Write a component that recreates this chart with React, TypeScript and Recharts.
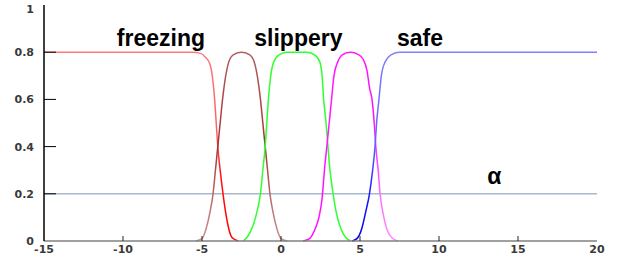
import { LineChart, Line, XAxis, YAxis, ReferenceLine, ReferenceDot } from 'recharts'

// membership curves
const freezingX = [-15, -5.6, -5.1, -4.8, -4.5, -4.35, -4.2, -4.1, -4.0, -3.85, -3.67, -3.5, -3.3, -3.1, -2.7]
const freezingY = [0.8, 0.8, 0.795, 0.78, 0.75, 0.7, 0.6, 0.5, 0.4, 0.3, 0.2, 0.12, 0.05, 0.015, 0]

const coldX = [-5.4, -5.0, -4.75, -4.5, -4.3, -4.15, -4.0, -3.85, -3.7, -3.5, -3.3, -3.0, -2.5, -2.0, -1.7, -1.5, -1.3, -1.15, -1.0, -0.85, -0.7, -0.5, -0.25, 0, 0.4]
const coldY = [0, 0.01, 0.05, 0.12, 0.2, 0.3, 0.4, 0.5, 0.6, 0.7, 0.76, 0.79, 0.8, 0.79, 0.76, 0.7, 0.6, 0.5, 0.4, 0.3, 0.2, 0.12, 0.05, 0.01, 0]

const slipperyX = [-2.4, -2.1, -1.8, -1.5, -1.3, -1.15, -1.0, -0.9, -0.8, -0.65, -0.45, -0.1, 0.4, 1.6, 2.1, 2.45, 2.6, 2.7, 2.85, 2.97, 3.1, 3.3, 3.5, 3.8, 4.1, 4.4]
const slipperyY = [0, 0.02, 0.06, 0.13, 0.2, 0.3, 0.4, 0.5, 0.6, 0.7, 0.76, 0.79, 0.8, 0.8, 0.79, 0.76, 0.7, 0.6, 0.5, 0.4, 0.3, 0.2, 0.12, 0.05, 0.015, 0]

const wetX = [1.4, 1.8, 2.15, 2.4, 2.6, 2.75, 2.9, 3.05, 3.2, 3.35, 3.6, 3.9, 4.4, 4.9, 5.2, 5.45, 5.6, 5.76, 5.9, 6.0, 6.15, 6.27, 6.45, 6.7, 7.0, 7.4]
const wetY = [0, 0.01, 0.05, 0.1, 0.18, 0.3, 0.4, 0.5, 0.6, 0.7, 0.76, 0.79, 0.8, 0.79, 0.77, 0.72, 0.65, 0.6, 0.5, 0.4, 0.3, 0.2, 0.12, 0.05, 0.015, 0]

const safeX = [4.5, 4.8, 5.1, 5.35, 5.6, 5.8, 5.95, 6.05, 6.2, 6.35, 6.6, 7.0, 7.5, 20]
const safeY = [0, 0.01, 0.05, 0.12, 0.2, 0.3, 0.4, 0.5, 0.6, 0.7, 0.76, 0.79, 0.8, 0.8]

const xTicks = [-15, -10, -5, 0, 5, 10, 15, 20]
const yTicks = [0, 0.2, 0.4, 0.6, 0.8, 1]
const alpha = 0.2

const toData = (xs: number[], ys: number[]) => xs.map((x, i) => ({ x, y: ys[i] }))

const labelFont = { fontFamily: 'Liberation Sans, Arial, sans-serif', fontWeight: 'bold', fontSize: 23, fill: '#000' }
const tickFont = { fontFamily: 'DejaVu Sans, sans-serif', fontWeight: 'bold', fontSize: 11, fill: '#3a3a3a' }

const XTick = (props: any) => {
  const { x, y, payload } = props
  const edge = payload.value === -15 || payload.value === 20
  return (
    <g>
      {!edge && <line x1={x} x2={x} y1={y} y2={y - 5} stroke="#222" />}
      <text x={x} y={y + 12} textAnchor="middle" {...tickFont}>{payload.value}</text>
    </g>
  )
}

const YTick = (props: any) => {
  const { x, y, payload } = props
  const edge = payload.value === 0 || payload.value === 1
  return (
    <g>
      {!edge && <line x1={x} x2={x + 12} y1={y} y2={y} stroke="#000" />}
      <text x={x - 10} y={y + 4} textAnchor="end" {...tickFont}>{payload.value}</text>
    </g>
  )
}

const RightTick = (props: any) => {
  const { x, y, payload } = props
  if (payload.value === 0 || payload.value === 1) return <g />
  return <line x1={x} x2={x - 10} y1={y} y2={y} stroke="#222" />
}

const TopTick = (props: any) => {
  const { x, y, payload } = props
  if (payload.value === -15 || payload.value === 20) return <g />
  return <line x1={x} x2={x} y1={y} y2={y + 4} stroke="#222" />
}

export default function App() {
  return (
    <div style={{ position: 'absolute', left: 0, top: 0, background: '#fff' }}>
      <LineChart width={621} height={258} margin={{ top: 5, right: 24, bottom: 0, left: 8 }}>
        <defs>
          <linearGradient id="gRed" x1="0" y1="0" x2="0" y2="1">
            <stop offset="0" stopColor="#ff7878" />
            <stop offset="0.45" stopColor="#ff6060" />
            <stop offset="0.65" stopColor="#ff1010" />
            <stop offset="1" stopColor="#ff0000" />
          </linearGradient>
          <linearGradient id="gBrown" x1="0" y1="0" x2="0" y2="1">
            <stop offset="0" stopColor="#b06060" />
            <stop offset="0.5" stopColor="#a83030" />
            <stop offset="0.75" stopColor="#b86868" />
            <stop offset="1" stopColor="#c89090" />
          </linearGradient>
          <linearGradient id="gMag" x1="0" y1="0" x2="1" y2="1">
            <stop offset="0" stopColor="#ff20ff" />
            <stop offset="0.55" stopColor="#ff10ff" />
            <stop offset="0.8" stopColor="#ff70ff" />
            <stop offset="1" stopColor="#ff90ff" />
          </linearGradient>
          <linearGradient id="gBlue" x1="0" y1="0" x2="0" y2="1">
            <stop offset="0" stopColor="#8080ff" />
            <stop offset="0.5" stopColor="#6060ff" />
            <stop offset="0.8" stopColor="#1010ff" />
            <stop offset="1" stopColor="#0000e0" />
          </linearGradient>
        </defs>
        <XAxis
          dataKey="x"
          type="number"
          domain={[-15, 20]}
          ticks={xTicks}
          allowDuplicatedCategory={false}
          height={17}
          tickSize={0}
          tickMargin={0}
          tickLine={false}
          axisLine={{ stroke: '#808080', strokeWidth: 1.5 }}
          tick={<XTick />}
        />
        <XAxis
          xAxisId="top"
          orientation="top"
          type="number"
          domain={[-15, 20]}
          ticks={xTicks}
          height={0}
          tickSize={0}
          tickMargin={0}
          tickLine={false}
          axisLine={{ stroke: '#808080', strokeWidth: 1.5 }}
          tick={<TopTick />}
        />
        <YAxis
          type="number"
          domain={[0, 1]}
          ticks={yTicks}
          width={36}
          tickSize={0}
          tickMargin={0}
          tickLine={false}
          axisLine={{ stroke: '#000', strokeWidth: 1.5 }}
          tick={<YTick />}
        />
        <YAxis
          yAxisId="right"
          orientation="right"
          type="number"
          domain={[0, 1]}
          ticks={yTicks}
          width={0}
          tickSize={0}
          tickMargin={0}
          tickLine={false}
          axisLine={{ stroke: '#808080', strokeWidth: 1.5 }}
          tick={<RightTick />}
        />
        <ReferenceLine y={alpha} stroke="#a8b8cc" strokeWidth={1.5} />
        <Line data={toData(freezingX, freezingY)} dataKey="y" type="monotone" stroke="url(#gRed)" strokeWidth={1.5} dot={false} isAnimationActive={false} />
        <Line data={toData(coldX, coldY)} dataKey="y" type="monotone" stroke="url(#gBrown)" strokeWidth={1.5} dot={false} isAnimationActive={false} />
        <Line data={toData(slipperyX, slipperyY)} dataKey="y" type="monotone" stroke="#30ff30" strokeWidth={1.5} dot={false} isAnimationActive={false} />
        <Line data={toData(wetX, wetY)} dataKey="y" type="monotone" stroke="url(#gMag)" strokeWidth={1.5} dot={false} isAnimationActive={false} />
        <Line data={toData(safeX, safeY)} dataKey="y" type="monotone" stroke="url(#gBlue)" strokeWidth={1.5} dot={false} isAnimationActive={false} />
        <ReferenceDot x={-7.6} y={0.86} r={0} label={{ value: 'freezing', position: 'center', ...labelFont }} />
        <ReferenceDot x={1.1} y={0.86} r={0} label={{ value: 'slippery', position: 'center', ...labelFont }} />
        <ReferenceDot x={8.8} y={0.86} r={0} label={{ value: 'safe', position: 'center', ...labelFont }} />
        <ReferenceDot x={13.5} y={0.275} r={0} label={{ value: 'α', position: 'center', ...labelFont }} />
      </LineChart>
    </div>
  )
}
